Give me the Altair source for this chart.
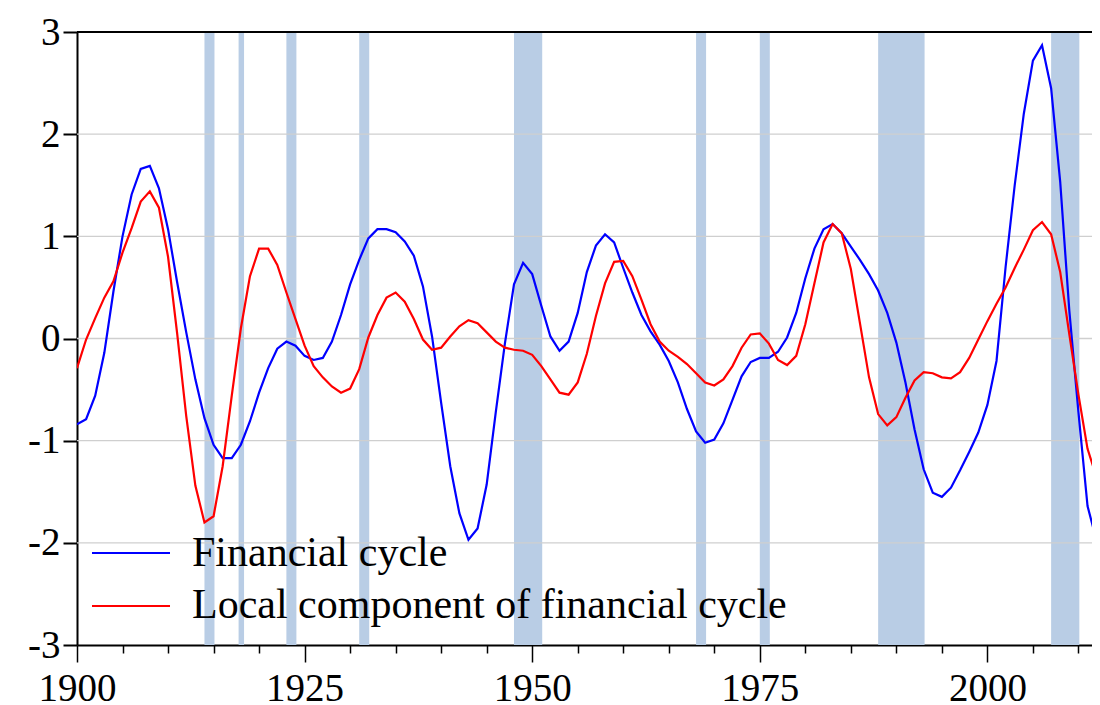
import altair as alt
import pandas as pd

years = list(range(1900, 2014))

financial_cycle = [
    -0.84, -0.79, -0.56, -0.14, 0.46, 1.00, 1.41, 1.66, 1.69, 1.47,   # 1900s
    1.07, 0.55, 0.06, -0.40, -0.78, -1.04, -1.17, -1.17, -1.04, -0.81,  # 1910s
    -0.53, -0.29, -0.10, -0.03, -0.07, -0.17, -0.21, -0.19, -0.03, 0.23,  # 1920s
    0.53, 0.77, 0.98, 1.07, 1.07, 1.04, 0.95, 0.81, 0.51, 0.02,  # 1930s
    -0.63, -1.25, -1.71, -1.97, -1.86, -1.43, -0.72, -0.05, 0.53, 0.74,  # 1940s
    0.63, 0.32, 0.02, -0.12, -0.03, 0.25, 0.65, 0.91, 1.02, 0.94,  # 1950s
    0.69, 0.45, 0.23, 0.07, -0.06, -0.22, -0.43, -0.69, -0.91, -1.02,  # 1960s
    -0.99, -0.83, -0.60, -0.37, -0.23, -0.19, -0.19, -0.13, 0.01, 0.25,  # 1970s
    0.59, 0.88, 1.07, 1.12, 1.03, 0.90, 0.77, 0.63, 0.47, 0.25,  # 1980s
    -0.04, -0.43, -0.89, -1.28, -1.51, -1.55, -1.46, -1.29, -1.11, -0.92,  # 1990s
    -0.65, -0.22, 0.70, 1.50, 2.20, 2.72, 2.87, 2.45, 1.53, 0.27,  # 2000s
    -0.72, -1.64, -1.98, -1.85,  # 2010-2013
]

local_component = [
    -0.29, -0.01, 0.20, 0.40, 0.56, 0.84, 1.08, 1.34, 1.44, 1.28,  # 1900s
    0.80, 0.05, -0.76, -1.44, -1.80, -1.74, -1.25, -0.56, 0.10, 0.61,  # 1910s
    0.88, 0.88, 0.72, 0.45, 0.19, -0.07, -0.27, -0.38, -0.47, -0.53,  # 1920s
    -0.49, -0.30, 0.01, 0.23, 0.40, 0.45, 0.36, 0.19, -0.01, -0.11,  # 1930s
    -0.09, 0.02, 0.12, 0.18, 0.15, 0.06, -0.03, -0.09, -0.11, -0.12,  # 1940s
    -0.16, -0.27, -0.40, -0.53, -0.55, -0.43, -0.15, 0.22, 0.54, 0.75,  # 1950s
    0.76, 0.61, 0.38, 0.14, -0.03, -0.12, -0.18, -0.25, -0.34, -0.43,  # 1960s
    -0.46, -0.40, -0.27, -0.09, 0.04, 0.05, -0.05, -0.21, -0.26, -0.17,  # 1970s
    0.14, 0.54, 0.94, 1.12, 1.03, 0.68, 0.15, -0.38, -0.74, -0.85,  # 1980s
    -0.77, -0.58, -0.41, -0.33, -0.34, -0.38, -0.39, -0.33, -0.19, -0.01,  # 1990s
    0.17, 0.34, 0.50, 0.69, 0.87, 1.06, 1.14, 1.02, 0.65, 0.04,  # 2000s
    -0.55, -1.08, -1.36, -1.35,  # 2010-2013
]

band_start = [1914.0, 1917.75, 1923.0, 1931.0, 1948.0, 1968.0, 1975.0, 1988.0, 2007.0]
band_end = [1915.1, 1918.35, 1924.1, 1932.1, 1951.1, 1969.1, 1976.1, 1993.1, 2010.1]

y_ticks = [-3, -2, -1, 0, 1, 2, 3]
grid_values = [-2, -1, 0, 1, 2]
x_tick_values = list(range(1900, 2015, 5))

series_names = ["Financial cycle", "Local component of financial cycle"]

assert len(financial_cycle) == len(years) and len(local_component) == len(years)

FONT = "Liberation Serif"
W, H = 1015, 613

df_fc = pd.DataFrame({"year": years, "value": financial_cycle})
df_lc = pd.DataFrame({"year": years, "value": local_component})
df_bands = pd.DataFrame({"start": band_start, "end": band_end})
df_grid = pd.DataFrame({"v": grid_values})
one = pd.DataFrame({"a": [0]})

x_scale = alt.Scale(domain=[1900, 2011.49], nice=False, zero=False)
y_scale = alt.Scale(domain=[-3, 3], nice=False, zero=False)

x_axis = alt.Axis(
    values=x_tick_values,
    title=None,
    grid=False,
    domainColor="black",
    domainWidth=2,
    tickColor="black",
    tickWidth=1.5,
    tickSize={"condition": {"test": "datum.value % 25 === 0", "value": 17}, "value": 8},
    labelExpr="datum.value % 25 === 0 ? '' + datum.value : ''",
    labelFont=FONT,
    labelFontSize=39,
    labelColor="black",
    labelPadding=7,
    labelFlush=False,
    labelOverlap=False,
)
y_axis = alt.Axis(
    values=y_ticks,
    title=None,
    grid=False,
    domainColor="black",
    domainWidth=2,
    tickColor="black",
    tickWidth=2,
    tickSize=14,
    labelExpr="'' + datum.value",
    labelFont=FONT,
    labelFontSize=39,
    labelColor="black",
    labelPadding=3,
    labelFlush=False,
    labelOverlap=False,
)

bands = alt.Chart(df_bands).mark_rect(color="#B9CDE5").encode(
    x=alt.X("start:Q", scale=x_scale, axis=x_axis),
    x2="end:Q",
    y=alt.value(0),
    y2=alt.value(H),
)

grid = alt.Chart(df_grid).mark_rule(color="#CFCFCF", strokeWidth=1.4).encode(
    y=alt.Y("v:Q", scale=y_scale, axis=y_axis),
)

line_fc = alt.Chart(df_fc).mark_line(color="#0000FF", strokeWidth=2.2, clip=True).encode(
    x=alt.X("year:Q", scale=x_scale, axis=x_axis),
    y=alt.Y("value:Q", scale=y_scale, axis=y_axis),
)
line_lc = alt.Chart(df_lc).mark_line(color="#FF0000", strokeWidth=2.2, clip=True).encode(
    x=alt.X("year:Q", scale=x_scale, axis=x_axis),
    y=alt.Y("value:Q", scale=y_scale, axis=y_axis),
)

top_border = alt.Chart(one).mark_rule(color="black", strokeWidth=2).encode(
    x=alt.value(0), x2=alt.value(W), y=alt.value(0)
)

leg_rule_fc = alt.Chart(one).mark_rule(color="#0000FF", strokeWidth=2.2).encode(
    x=alt.value(15), x2=alt.value(93), y=alt.value(521)
)
leg_rule_lc = alt.Chart(one).mark_rule(color="#FF0000", strokeWidth=2.2).encode(
    x=alt.value(15), x2=alt.value(93), y=alt.value(574)
)
leg_text_fc = alt.Chart(one).mark_text(
    text=series_names[0], font=FONT, fontSize=42, align="left", baseline="alphabetic", color="black"
).encode(x=alt.value(115), y=alt.value(534))
leg_text_lc = alt.Chart(one).mark_text(
    text=series_names[1], font=FONT, fontSize=42, align="left", baseline="alphabetic", color="black"
).encode(x=alt.value(115), y=alt.value(586))

chart = alt.layer(
    bands, grid, line_fc, line_lc, top_border,
    leg_rule_fc, leg_rule_lc, leg_text_fc, leg_text_lc,
).properties(
    width=W,
    height=H,
    autosize=alt.AutoSizeParams(type="none"),
    padding={"left": 69, "top": 24, "right": 0, "bottom": 60},
).configure_view(stroke=None).configure(background="white")

chart.save("out.html", embed_options={"renderer": "svg", "actions": False})
